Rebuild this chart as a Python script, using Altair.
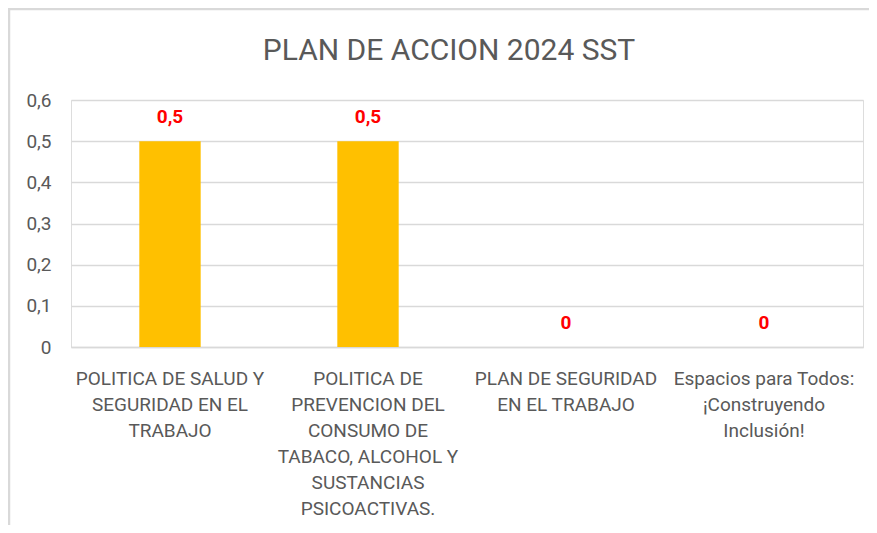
import altair as alt
import pandas as pd

label_lines = [
    ["POLITICA DE SALUD Y", "SEGURIDAD EN EL", "TRABAJO"],
    ["POLITICA DE", "PREVENCION DEL", "CONSUMO DE", "TABACO, ALCOHOL Y", "SUSTANCIAS", "PSICOACTIVAS."],
    ["PLAN DE SEGURIDAD", "EN EL TRABAJO"],
    ["Espacios para Todos:", "¡Construyendo", "Inclusión!"],
]
values = [0.5, 0.5, 0, 0]
y_ticks = [0, 0.1, 0.2, 0.3, 0.4, 0.5, 0.6]
title_text = "PLAN DE ACCION 2024 SST"

categories = ["|".join(l) for l in label_lines]
df = pd.DataFrame({"cat": categories, "value": values})

FONT = "Roboto, sans-serif"
GRAY = "#595959"

x_enc = alt.X(
    "cat:N", sort=categories,
    scale=alt.Scale(paddingInner=0.69, paddingOuter=0.345),
    axis=alt.Axis(
        title=None, labelExpr="split(datum.label, '|')", labelAngle=0,
        labelFont=FONT, labelFontSize=19, labelLineHeight=26, labelColor=GRAY,
        labelPadding=22, labelLimit=300, labelOverlap=False, ticks=False,
        domain=True, domainColor="#d9d9d9", domainWidth=1.5, grid=False,
    ),
)
y_enc = alt.Y(
    "value:Q", scale=alt.Scale(domain=[0, 0.6], nice=False),
    axis=alt.Axis(
        title=None, values=y_ticks,
        labelExpr="datum.value == 0 ? '0' : replace(format(datum.value, '.1f'), '.', ',')",
        labelFont=FONT, labelFontSize=19, labelColor=GRAY, labelPadding=20,
        ticks=False, domain=False, grid=True, gridColor="#d9d9d9", gridWidth=1.5,
    ),
)

base = alt.Chart(df)
bars = base.mark_bar(color="#FFC000").encode(x=x_enc, y=y_enc)
labels = base.transform_calculate(
    lab="datum.value == 0 ? '0' : replace(format(datum.value, '.1f'), '.', ',')"
).mark_text(
    color="#FF0000", font=FONT, fontSize=19, fontWeight="bold", baseline="bottom", dy=-14
).encode(x=alt.X("cat:N", sort=categories), y="value:Q", text="lab:N")

single = alt.Chart(alt.Data(values=[{}]))
left_border = single.mark_rule(color="#d9d9d9", strokeWidth=2.5).encode(
    x=alt.value(-62), y=alt.value(-92), y2=alt.value(440)
)
top_border = single.mark_rule(color="#d9d9d9", strokeWidth=2.5).encode(
    x=alt.value(-63), x2=alt.value(810), y=alt.value(-91)
)
title = single.mark_text(
    font=FONT, fontSize=30, color=GRAY, align="center", baseline="middle"
).encode(x=alt.value(378), y=alt.value(-49), text=alt.value(title_text))

chart = alt.layer(bars, labels, left_border, top_border, title).properties(
    width=792, height=247,
    padding={"left": 63, "top": 92, "right": 6, "bottom": 178},
    autosize=alt.AutoSizeParams(type="none"),
).configure_view(stroke=None).configure(background="white")

chart.save("out.html", embed_options={"renderer": "svg", "actions": False})
